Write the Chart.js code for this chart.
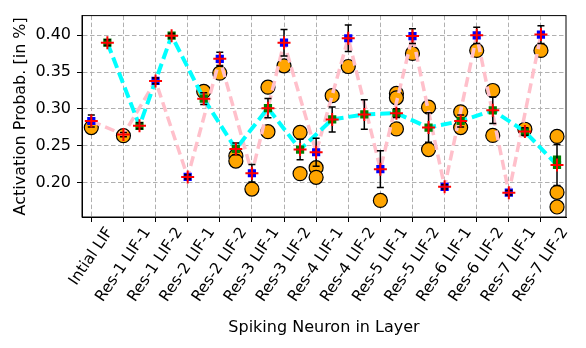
<!DOCTYPE html>
<html>
<head>
<meta charset="utf-8">
<script src="https://cdn.jsdelivr.net/npm/chart.js@4.4.0/dist/chart.umd.min.js"></script>
<style>
  html, body { margin: 0; padding: 0; background: #fff; }
  #wrap { width: 586px; height: 348px; }
</style>
</head>
<body>
<div id="wrap"><canvas id="myChart" width="586" height="348"></canvas></div>
<script>
// Layers on the x axis
const layers = [
    'Intial LIF', 'Res-1 LIF-1', 'Res-1 LIF-2', 'Res-2 LIF-1', 'Res-2 LIF-2',
    'Res-3 LIF-1', 'Res-3 LIF-2', 'Res-4 LIF-1', 'Res-4 LIF-2', 'Res-5 LIF-1',
    'Res-5 LIF-2', 'Res-6 LIF-1', 'Res-6 LIF-2', 'Res-7 LIF-1', 'Res-7 LIF-2'
];
const yTicks = [0.20, 0.25, 0.30, 0.35, 0.40];

// pink series (sits on each layer tick)
const pinkX    = [0, 1, 2, 3, 4, 5, 6, 7, 8, 9, 10, 11, 12, 13, 14];
const pinkMean = [0.2835, 0.265, 0.338, 0.2075, 0.368, 0.2125, 0.390, 0.241, 0.396, 0.218, 0.399, 0.194, 0.400, 0.186, 0.401];
const pinkErr  = [0.008, 0.003, 0.004, 0.003, 0.009, 0.012, 0.018, 0.019, 0.018, 0.025, 0.010, 0.003, 0.011, 0.003, 0.012];
// blue squares (none visible on Res-1 LIF-1)
const blueSqY  = [0.2835, null, 0.338, 0.2075, 0.368, 0.2125, 0.390, 0.241, 0.396, 0.218, 0.399, 0.194, 0.400, 0.186, 0.401];

// cyan series (half a step after each layer)
const cyanX    = [0.5, 1.5, 2.5, 3.5, 4.5, 5.5, 6.5, 7.5, 8.5, 9.5, 10.5, 11.5, 12.5, 13.5, 14.5];
const cyanMean = [0.390, 0.277, 0.3995, 0.3138, 0.2455, 0.301, 0.2447, 0.2857, 0.2924, 0.2942, 0.2746, 0.2835, 0.298, 0.2692, 0.2237];
const cyanErr  = [0.004, 0.004, 0.003, 0.008, 0.008, 0.013, 0.014, 0.017, 0.020, 0.006, 0.020, 0.008, 0.018, 0.005, 0.028];
// green squares
const greenSqX = [0.5, 1.5, 2.5, 3.5, 4.5, 5.5, 6.5, 7.5, 8.5, 9.5, 10.5, 11.5, 12.5, 13.5, 14.5, 14.5];
const greenSqY = [0.390, 0.277, 0.3995, 0.3138, 0.2455, 0.301, 0.2447, 0.2857, 0.2924, 0.2942, 0.2746, 0.2835, 0.298, 0.2692, 0.2237, 0.231];

// orange circles (single runs)
const sampleX = [0, 1, 3.5, 4, 4.5, 4.5, 5, 5.5, 5.5, 6, 6.5, 6.5, 7, 7, 7.5, 8, 9, 9.5, 9.5, 9.5,
                 10, 10.5, 10.5, 11.5, 11.5, 12, 12.5, 12.5, 13.5, 14, 14.5, 14.5, 14.5];
const sampleY = [0.2746, 0.2635, 0.3237, 0.3486, 0.236, 0.229, 0.191, 0.3295, 0.269, 0.3585, 0.268, 0.212, 0.220, 0.207, 0.318, 0.3576, 0.1755, 0.321, 0.315, 0.2728,
                 0.3754, 0.3023, 0.2447, 0.296, 0.2746, 0.3794, 0.325, 0.2639, 0.2723, 0.3794, 0.2625, 0.1866, 0.1666];

const FONT = "'DejaVu Sans', sans-serif";
Chart.defaults.color = '#000';
Chart.defaults.font.family = FONT;

const pts = (xs, ys) => xs.map((x, i) => ({ x: x, y: ys[i] }));

// error bars are drawn right after their square dataset
const errorBarPlugin = {
    id: 'errorBars',
    afterDatasetDraw(chart, args) {
        const ds = chart.data.datasets[args.index];
        if (!ds.errX) return;
        const { ctx, scales: { x, y } } = chart;
        ctx.save();
        ctx.strokeStyle = '#000';
        ctx.lineWidth = 1.5;
        ds.errX.forEach((xv, i) => {
            const px = x.getPixelForValue(xv);
            const hi = y.getPixelForValue(ds.errMean[i] + ds.errVal[i]);
            const lo = y.getPixelForValue(ds.errMean[i] - ds.errVal[i]);
            ctx.beginPath();
            ctx.moveTo(px, hi); ctx.lineTo(px, lo);
            ctx.moveTo(px - 3.5, hi); ctx.lineTo(px + 3.5, hi);
            ctx.moveTo(px - 3.5, lo); ctx.lineTo(px + 3.5, lo);
            ctx.stroke();
        });
        ctx.restore();
    }
};

// box round the plot + rotated, centred x labels (matplotlib style)
const framePlugin = {
    id: 'frame',
    beforeDatasetsDraw(chart) {
        const { ctx, chartArea: a } = chart;
        ctx.save();
        ctx.strokeStyle = '#000';
        ctx.lineWidth = 1;
        ctx.strokeRect(a.left, a.top, a.right - a.left, a.bottom - a.top);
        ctx.restore();
    },
    afterDraw(chart) {
        const { ctx, scales: { x } } = chart;
        const size = 15.5, th = 56 * Math.PI / 180;
        const top = x.top + 5 + 3;
        ctx.save();
        ctx.font = size + 'px ' + FONT;
        ctx.fillStyle = '#000';
        ctx.textAlign = 'center';
        ctx.textBaseline = 'middle';
        layers.forEach((lab, i) => {
            const w = ctx.measureText(lab).width;
            const h = size * 1.0;
            const bh = w * Math.sin(th) + h * Math.cos(th);
            ctx.save();
            ctx.translate(x.getPixelForValue(i), top + bh / 2);
            ctx.rotate(-th);
            ctx.fillText(lab, 0, 0);
            ctx.restore();
        });
        ctx.restore();
    }
};

const ctx = document.getElementById('myChart').getContext('2d');
new Chart(ctx, {
    type: 'scatter',
    data: {
        datasets: [
            { // red plus on pink means
                data: pts(pinkX, pinkMean), order: 0,
                pointStyle: 'cross', pointRadius: 6.5, borderColor: '#ff0000', borderWidth: 2
            },
            { // red plus on cyan means
                data: pts(cyanX, cyanMean), order: 0,
                pointStyle: 'cross', pointRadius: 6.5, borderColor: '#ff0000', borderWidth: 2
            },
            {
                data: pts(pinkX, blueSqY), order: 1,
                pointStyle: 'rect', pointRadius: 5.8, backgroundColor: '#0000ff', borderWidth: 0,
                errX: pinkX, errMean: pinkMean, errVal: pinkErr
            },
            {
                data: pts(greenSqX, greenSqY), order: 1,
                pointStyle: 'rect', pointRadius: 5.8, backgroundColor: '#008000', borderWidth: 0,
                errX: cyanX, errMean: cyanMean, errVal: cyanErr
            },
            {
                type: 'line', data: pts(cyanX, cyanMean), order: 2,
                borderColor: '#00ffff', borderWidth: 4, borderDash: [11, 5], pointRadius: 0, tension: 0
            },
            {
                type: 'line', data: pts(pinkX, pinkMean), order: 3,
                borderColor: '#ffc0cb', borderWidth: 3.5, borderDash: [10, 5], pointRadius: 0, tension: 0
            },
            {
                data: pts(sampleX, sampleY), order: 4,
                pointStyle: 'circle', pointRadius: 7, backgroundColor: '#ffa500',
                borderColor: '#000', borderWidth: 1.2
            }
        ]
    },
    options: {
        responsive: false,
        animation: false,
        devicePixelRatio: 1,
        layout: { padding: { left: 0, top: 12, right: 20, bottom: 0 } },
        plugins: { legend: { display: false }, tooltip: { enabled: false } },
        scales: {
            x: {
                type: 'linear', min: -0.29, max: 14.78,
                afterBuildTicks: s => { s.ticks = layers.map((_, i) => ({ value: i })); },
                afterFit: s => { s.height = 131; },
                ticks: { display: false },
                grid: { color: '#b0b0b0', lineWidth: 1, tickLength: 5, tickColor: '#000', tickWidth: 1 },
                border: { color: '#000', width: 1, dash: [4.5, 2.5] },
                title: { display: true, text: 'Spiking Neuron in Layer', font: { size: 16 }, padding: { top: 0, bottom: 10.5 } }
            },
            y: {
                min: 0.153, max: 0.4268,
                afterBuildTicks: s => { s.ticks = yTicks.map(v => ({ value: v })); },
                afterFit: s => { s.width = 82; },
                ticks: { font: { size: 16 }, padding: 6, callback: v => v.toFixed(2) },
                grid: { color: '#b0b0b0', lineWidth: 1, tickLength: 5, tickColor: '#000', tickWidth: 1 },
                border: { color: '#000', width: 1, dash: [4.5, 2.5] },
                title: { display: true, text: 'Activation Probab. [in %]', font: { size: 16 }, padding: { top: 11, bottom: 0 } }
            }
        }
    },
    plugins: [errorBarPlugin, framePlugin]
});
</script>
</body>
</html>
